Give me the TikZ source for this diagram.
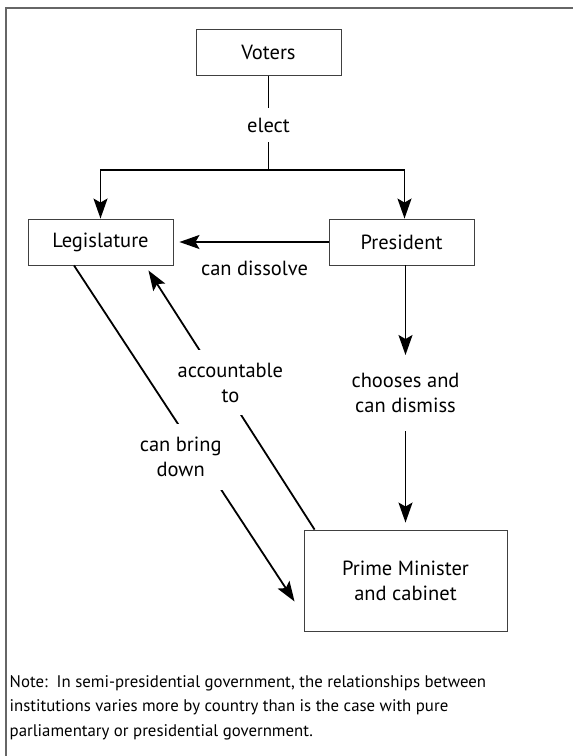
\documentclass[tikz,border=0pt]{standalone}
\usepackage{fontspec}
\setmainfont{PT Sans}
\usetikzlibrary{positioning,arrows.meta}
\tikzset{>={Stealth[length=20pt,width=14pt,inset=4pt]}}
\tikzset{
  box/.style={draw=black!75, line width=0.9pt, minimum width=145pt, minimum height=46pt,
    font=\fontsize{20.5}{25}\selectfont},
  lbl/.style={font=\fontsize{20.5}{25}\selectfont, align=center},
  cut/.style={lbl, fill=white, inner xsep=3pt, inner ysep=13pt},
  conn/.style={line width=1.8pt},
}

\begin{document}
\begin{tikzpicture}[x=1pt,y=-1pt]
\useasboundingbox (0,0) rectangle (573,756);
\draw[line width=1.6pt, black!60] (600,8) -- (6,8) -- (6,780);

\node[box] (voters) at (268.5,52.5) {Voters};
\node[box] (leg) at (100.5,242) {Legislature};
\node[box] (pres) at (401.5,242) {President};
\node[box, minimum width=203pt, minimum height=101pt, align=center] (pm) at (405.5,580.5)
  {Prime Minister\\and cabinet};

% voters elect both
\node[lbl, inner sep=9.5pt] (elect) at (268.5,125) {elect};
\coordinate (fork) at (268.5,170);
\draw[conn] (voters) -- (elect);
\draw[conn] (elect) -- (fork);
\draw[conn,->] (fork) -| (leg.north);
\draw[conn,->] (fork) -| ([xshift=3pt]pres.north);

% president and legislature
\draw[conn,->] (pres) -- ([xshift=6pt]leg.east);
\node[lbl] (dissolve) at (254.5,268) {can dissolve};

% president picks the cabinet
\node[lbl, inner xsep=2pt, inner ysep=18pt] (choose) at (405.5,393) {chooses and\\can dismiss};
\draw[conn,->] (pres.south -| choose) -- (choose);
\draw[conn,->] (choose) -- ([yshift=7pt]pm.north);

% legislature and cabinet
\draw[conn,->] ([xshift=-26.5pt]leg.south) --
  node[cut, pos=0.57, xshift=-19pt] (bring) {can bring\\down}
  ([xshift=-9pt,yshift=-21pt]pm.west);
\draw[conn,->] ([xshift=11pt]pm.north west) --
  node[cut, pos=0.567, xshift=10pt] (acc) {accountable\\to}
  ([xshift=-25pt,yshift=-5pt]leg.south east);

\node[anchor=north west, inner sep=0pt, align=left, font=\fontsize{16.8}{24.3}\selectfont] (note)
  at (9.5,675.5) {Note:~~In semi-presidential government, the relationships between\\
  institutions varies more by country than is the case with pure\\
  parliamentary or presidential government.};
\end{tikzpicture}
\end{document}
